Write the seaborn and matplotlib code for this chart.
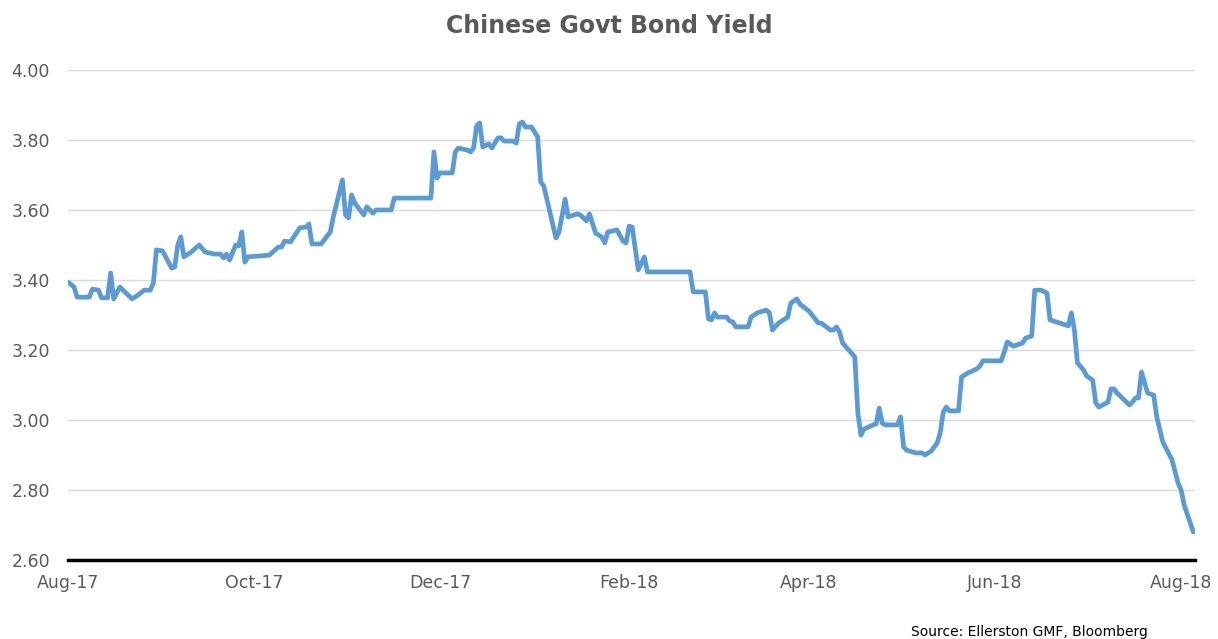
import numpy as np
import pandas as pd
import matplotlib
matplotlib.use("Agg")
import matplotlib.pyplot as plt
import matplotlib.dates as mdates
import seaborn as sns

# ---- data ----
start_date = "2017-08-01"
day_offsets = [
    0, 2, 3, 7, 8, 10, 11, 13, 14, 15, 17, 21, 23, 25, 27, 28, 29, 31, 34, 35,
    36, 37, 38, 40, 43, 45, 48, 50, 51, 52, 53, 55, 56, 57, 58, 59, 66, 69, 70, 71,
    73, 76, 78, 79, 80, 83, 86, 87, 90, 91, 92, 93, 94, 97, 98, 100, 101, 106, 107, 119,
    120, 121, 122, 126, 127, 128, 131, 132, 133, 134, 135, 136, 138, 139, 141, 142, 143, 146, 147, 148,
    149, 150, 152, 154, 155, 156, 160, 161, 162, 163, 164, 167, 168, 170, 171, 173, 175, 176, 177, 180,
    182, 183, 184, 185, 187, 189, 190, 204, 205, 209, 210, 211, 212, 213, 216, 217, 218, 219, 223, 224,
    226, 229, 230, 231, 233, 236, 237, 239, 240, 243, 244, 246, 247, 250, 251, 252, 253, 254, 256, 258,
    259, 260, 261, 264, 265, 266, 267, 268, 272, 273, 274, 275, 278, 280, 281, 283, 285, 286, 287, 288,
    289, 292, 293, 295, 298, 299, 300, 306, 307, 308, 310, 313, 314, 316, 317, 319, 321, 322, 328, 329,
    330, 331, 333, 334, 336, 337, 338, 341, 342, 343, 344, 345, 348, 349, 350, 351, 352, 354, 356, 357,
    359, 362, 364, 365, 366, 369,
]
yields = [
    3.394, 3.380, 3.351, 3.351, 3.374, 3.371, 3.349, 3.349, 3.420, 3.346, 3.380, 3.346, 3.357, 3.371, 3.371, 3.391, 3.486, 3.483, 3.434, 3.437,
    3.500, 3.523, 3.466, 3.477, 3.500, 3.480, 3.474, 3.474, 3.463, 3.474, 3.457, 3.500, 3.497, 3.537, 3.451, 3.466, 3.471, 3.494, 3.494, 3.511,
    3.509, 3.549, 3.551, 3.560, 3.503, 3.503, 3.537, 3.580, 3.686, 3.586, 3.577, 3.643, 3.620, 3.586, 3.609, 3.591, 3.600, 3.600, 3.634, 3.634,
    3.766, 3.691, 3.706, 3.706, 3.766, 3.777, 3.771, 3.766, 3.777, 3.840, 3.849, 3.780, 3.789, 3.777, 3.806, 3.806, 3.797, 3.797, 3.791, 3.846,
    3.851, 3.837, 3.837, 3.809, 3.680, 3.669, 3.520, 3.537, 3.583, 3.631, 3.580, 3.589, 3.586, 3.569, 3.589, 3.534, 3.523, 3.506, 3.537, 3.543,
    3.511, 3.506, 3.554, 3.551, 3.429, 3.466, 3.423, 3.423, 3.366, 3.366, 3.289, 3.286, 3.306, 3.294, 3.294, 3.283, 3.280, 3.266, 3.266, 3.294,
    3.306, 3.314, 3.306, 3.257, 3.277, 3.294, 3.334, 3.346, 3.331, 3.311, 3.300, 3.277, 3.277, 3.257, 3.257, 3.266, 3.251, 3.220, 3.200, 3.180,
    3.020, 2.957, 2.974, 2.986, 2.989, 3.034, 2.991, 2.986, 2.986, 3.009, 2.923, 2.914, 2.906, 2.906, 2.900, 2.911, 2.934, 2.963, 3.023, 3.037,
    3.026, 3.026, 3.123, 3.134, 3.146, 3.154, 3.169, 3.169, 3.194, 3.223, 3.211, 3.220, 3.234, 3.240, 3.371, 3.371, 3.363, 3.286, 3.269, 3.306,
    3.257, 3.163, 3.143, 3.126, 3.114, 3.049, 3.037, 3.051, 3.089, 3.089, 3.077, 3.069, 3.043, 3.051, 3.063, 3.063, 3.137, 3.077, 3.071, 3.009,
    2.937, 2.886, 2.820, 2.800, 2.757, 2.680,
]
y_ticks = [2.60, 2.80, 3.00, 3.20, 3.40, 3.60, 3.80, 4.00]
title = "Chinese Govt Bond Yield"
source = "Source: Ellerston GMF, Bloomberg"

df = pd.DataFrame({
    "date": pd.Timestamp(start_date) + pd.to_timedelta(day_offsets, unit="D"),
    "yield": yields,
})

sns.set_style("white")
plt.rcParams["font.family"] = ["DejaVu Sans"]

fig = plt.figure(figsize=(12.18, 6.39), dpi=100)
ax = fig.add_axes([0.0558, 0.1236, 0.9252, 0.7669])

sns.lineplot(data=df, x="date", y="yield", ax=ax, color="#5B9BD5",
             linewidth=3.4, solid_joinstyle="round", solid_capstyle="round")

ax.set_ylim(2.60, 4.00)
ax.set_yticks(y_ticks)
ax.yaxis.set_major_formatter(matplotlib.ticker.FormatStrFormatter("%.2f"))
x0 = pd.Timestamp(start_date)
ax.set_xlim(x0, x0 + pd.Timedelta(days=369.5))
ax.xaxis.set_major_locator(mdates.MonthLocator(bymonth=[2, 4, 6, 8, 10, 12]))
ax.xaxis.set_major_formatter(mdates.DateFormatter("%b-%y"))

ax.grid(axis="y", color="#D9D9D9", linewidth=1)
ax.grid(axis="x", visible=False)
ax.set_axisbelow(True)
for s in ["left", "right", "top"]:
    ax.spines[s].set_visible(False)
ax.spines["bottom"].set_color("black")
ax.spines["bottom"].set_linewidth(2.5)
ax.spines["bottom"].set_zorder(5)

ax.tick_params(axis="both", length=0, labelsize=12.5, labelcolor="#595959")
ax.tick_params(axis="x", pad=10)
ax.tick_params(axis="y", pad=13)
ax.set_xlabel("")
ax.set_ylabel("")

fig.text(0.5, 0.960, title, ha="center", va="center", fontsize=17,
         fontweight="bold", color="#595959")
fig.text(0.9425, 0.011, source, ha="right", va="center", fontsize=10,
         color="black")

fig.savefig("out.png", dpi=100)
